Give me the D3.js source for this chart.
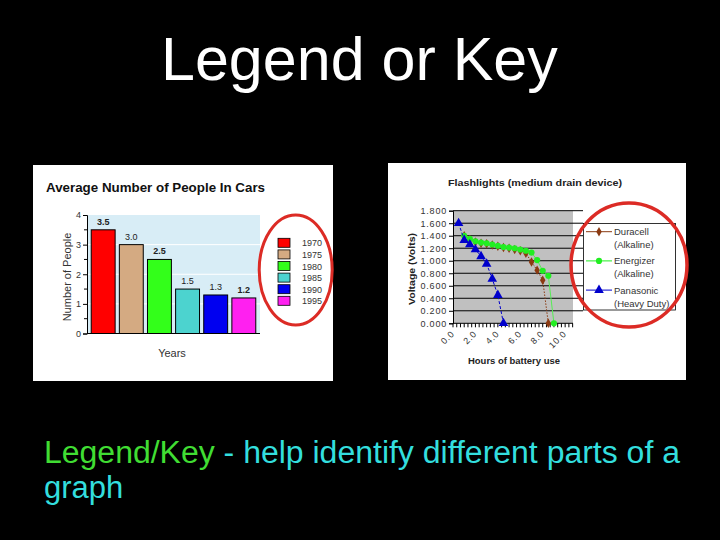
<!DOCTYPE html>
<html>
<head>
<meta charset="utf-8">
<script src="https://cdn.jsdelivr.net/npm/d3@7"></script>
<style>
body { margin: 0; background: #000; }
svg { display: block; }
text { font-family: "Liberation Sans", Arial, sans-serif; }
</style>
</head>
<body>
<svg width="720" height="540"></svg>
<script>
// --- left chart: average number of people in cars
var years = ["1970", "1975", "1980", "1985", "1990", "1995"];
var people = [3.5, 3.0, 2.5, 1.5, 1.3, 1.2];
var peopleLabels = ["3.5", "3.0", "2.5", "1.5", "1.3", "1.2"];
var peopleTicks = [0, 1, 2, 3, 4];

// --- right chart: flashlight battery voltage vs hours
var duracellHours = [1.0, 1.5, 2.0, 2.5, 3.0, 3.5, 4.0, 4.5, 5.0, 5.5, 6.0, 6.5, 7.0, 7.5, 8.0, 8.5];
var duracellVolts = [1.40, 1.34, 1.30, 1.28, 1.27, 1.25, 1.23, 1.21, 1.20, 1.18, 1.16, 1.12, 0.98, 0.85, 0.69, 0.00];
var energizerHours = [1.0, 1.5, 2.0, 2.5, 3.0, 3.5, 4.0, 4.5, 5.0, 5.5, 6.0, 6.5, 7.0, 7.5, 8.0, 8.5, 9.0];
var energizerVolts = [1.40, 1.35, 1.31, 1.29, 1.28, 1.26, 1.24, 1.22, 1.21, 1.20, 1.18, 1.16, 1.13, 1.01, 0.84, 0.76, 0.00];
var panasonicHours = [0.5, 1.0, 1.5, 2.0, 2.5, 3.0, 3.5, 4.0, 4.5];
var panasonicVolts = [1.60, 1.33, 1.26, 1.18, 1.07, 0.95, 0.71, 0.45, 0.00];
var seriesNames = [["Duracell", "(Alkaline)"], ["Energizer", "(Alkaline)"], ["Panasonic", "(Heavy Duty)"]];
var voltTicks = [0, 0.2, 0.4, 0.6, 0.8, 1.0, 1.2, 1.4, 1.6, 1.8];
var hourTicks = [0, 2, 4, 6, 8, 10];

var svg = d3.select("svg");

svg.append("rect").attr("width", 720).attr("height", 540).attr("fill", "#000");

// slide title
svg.append("text")
   .attr("x", 161).attr("y", 80)
   .attr("font-size", 61)
   .attr("fill", "#fff")
   .text("Legend or Key");

// ===================== left chart =====================
var colorsL = ["#ff0000", "#d4aa82", "#33ff1a", "#4cd3cf", "#0000f0", "#ff20f0"];

svg.append("rect")
   .attr("x", 33).attr("y", 165).attr("width", 300).attr("height", 216)
   .attr("fill", "#fff");

svg.append("text")
   .attr("x", 46).attr("y", 192)
   .attr("font-family", "'Liberation Sans Narrow', 'Arial Narrow', sans-serif")
   .attr("font-weight", "bold")
   .attr("font-size", 13)
   .attr("textLength", 219)
   .attr("lengthAdjust", "spacingAndGlyphs")
   .attr("fill", "#111")
   .text("Average Number of People In Cars");

var xL = d3.scaleBand()
           .domain(years)
           .range([87, 260])
           .paddingInner(0.15)
           .paddingOuter(0.15);

var yL = d3.scaleLinear()
           .domain([0, 4])
           .range([333.5, 215]);

svg.append("rect")
   .attr("x", 87).attr("y", yL(4))
   .attr("width", 173).attr("height", yL(0) - yL(4))
   .attr("fill", "#d8edf6");

svg.append("g")
   .selectAll("line")
   .data([1, 2, 3])
   .enter().append("line")
   .attr("x1", 87).attr("x2", 260)
   .attr("y1", function(d) { return yL(d); })
   .attr("y2", function(d) { return yL(d); })
   .attr("stroke", "#fff")
   .attr("stroke-width", 1);

svg.append("g")
   .selectAll("rect")
   .data(people)
   .enter().append("rect")
   .attr("x", function(d, i) { return xL(years[i]); })
   .attr("y", function(d) { return yL(d); })
   .attr("width", xL.bandwidth())
   .attr("height", function(d) { return yL(0) - yL(d); })
   .attr("fill", function(d, i) { return colorsL[i]; })
   .attr("stroke", "#000")
   .attr("stroke-width", 1);

svg.append("g")
   .selectAll("text")
   .data(people)
   .enter().append("text")
   .attr("x", function(d, i) { return xL(years[i]) + xL.bandwidth() / 2; })
   .attr("y", function(d) { return yL(d) - 5; })
   .attr("text-anchor", "middle")
   .attr("font-size", 9)
   .attr("font-weight", function(d, i) { return (i == 0 || i == 2 || i == 5) ? "bold" : "normal"; })
   .attr("fill", "#222")
   .text(function(d, i) { return peopleLabels[i]; });

// minor ticks on the value axis
svg.append("g")
   .selectAll("line")
   .data([0.5, 1.5, 2.5, 3.5])
   .enter().append("line")
   .attr("x1", 84).attr("x2", 87)
   .attr("y1", function(d) { return yL(d); })
   .attr("y2", function(d) { return yL(d); })
   .attr("stroke", "#000");

var axL = svg.append("g")
   .attr("transform", "translate(87,0)")
   .call(d3.axisLeft(yL).tickValues(peopleTicks).tickSize(4).tickPadding(2).tickFormat(d3.format("d")));
axL.selectAll("text").attr("font-size", 9).attr("fill", "#333")
   .attr("font-family", "'Liberation Sans', Arial, sans-serif");
axL.select(".domain").attr("stroke", "#000");

svg.append("line")
   .attr("x1", 87).attr("x2", 260)
   .attr("y1", yL(0)).attr("y2", yL(0))
   .attr("stroke", "#000");

svg.append("text")
   .attr("transform", "translate(71,277) rotate(-90)")
   .attr("text-anchor", "middle")
   .attr("font-size", 11)
   .attr("fill", "#333")
   .text("Number of People");

svg.append("text")
   .attr("x", 172).attr("y", 357)
   .attr("text-anchor", "middle")
   .attr("font-size", 11)
   .attr("fill", "#333")
   .text("Years");

var legL = svg.append("g")
   .selectAll("g")
   .data(years)
   .enter().append("g")
   .attr("transform", function(d, i) { return "translate(278," + (238.3 + i * 11.6) + ")"; });
legL.append("rect")
   .attr("width", 12).attr("height", 9)
   .attr("fill", function(d, i) { return colorsL[i]; })
   .attr("stroke", "#000")
   .attr("stroke-width", 0.8);
legL.append("text")
   .attr("x", 24).attr("y", 8)
   .attr("font-size", 9)
   .attr("fill", "#333")
   .text(function(d) { return d; });

// ===================== right chart =====================
var colorsR = ["#8b3a12", "#22ee22", "#0000cc"];

svg.append("rect")
   .attr("x", 388).attr("y", 163).attr("width", 298).attr("height", 217)
   .attr("fill", "#fff");

var xR = d3.scaleLinear()
           .domain([0, 10.7])
           .range([453, 573]);

var yR = d3.scaleLinear()
           .domain([0, 1.8])
           .range([323.3, 210.7]);

svg.append("rect")
   .attr("x", 453).attr("y", yR(1.8))
   .attr("width", 120).attr("height", yR(0) - yR(1.8))
   .attr("fill", "#c0c0c0");

svg.append("g")
   .selectAll("line")
   .data(voltTicks.slice(1))
   .enter().append("line")
   .attr("x1", 453).attr("x2", 583)
   .attr("y1", function(d) { return yR(d); })
   .attr("y2", function(d) { return yR(d); })
   .attr("stroke", "#000")
   .attr("stroke-width", 1);

var axY = svg.append("g")
   .attr("transform", "translate(453,0)")
   .call(d3.axisLeft(yR).tickValues(voltTicks).tickSize(4).tickPadding(2).tickFormat(d3.format(".3f")));
axY.selectAll("text").attr("font-size", 9).attr("fill", "#333").attr("letter-spacing", 0.8)
   .attr("font-family", "'Liberation Sans', Arial, sans-serif");

// bottom axis with fine ticks
svg.append("g")
   .selectAll("line")
   .data(d3.range(0, 10.75, 1 / 3))
   .enter().append("line")
   .attr("x1", function(d) { return xR(d); })
   .attr("x2", function(d) { return xR(d); })
   .attr("y1", yR(0)).attr("y2", yR(0) + 4)
   .attr("stroke", "#000");
svg.append("line")
   .attr("x1", 453).attr("x2", 573)
   .attr("y1", yR(0)).attr("y2", yR(0))
   .attr("stroke", "#000");

svg.append("g")
   .selectAll("text")
   .data(hourTicks)
   .enter().append("text")
   .attr("transform", function(d) { return "translate(" + (xR(d) + 2) + "," + (yR(0) + 11) + ") rotate(-45)"; })
   .attr("text-anchor", "end")
   .attr("font-size", 9)
   .attr("letter-spacing", 0.8)
   .attr("fill", "#333")
   .text(function(d) { return d3.format(".1f")(d); });

var line = d3.line()
             .x(function(d) { return xR(d[0]); })
             .y(function(d) { return yR(d[1]); });

var duracell = d3.zip(duracellHours, duracellVolts);
var energizer = d3.zip(energizerHours, energizerVolts);
var panasonic = d3.zip(panasonicHours, panasonicVolts);
var series = [duracell, energizer, panasonic];
var dashes = ["1.5,1.5", null, "3,2"];
var symbols = [d3.symbolDiamond, d3.symbolCircle, d3.symbolTriangle];
var symSize = [26, 30, 40];

series.forEach(function(s, i) {
    svg.append("path")
       .datum(s)
       .attr("fill", "none")
       .attr("stroke", i == 1 ? "#55ee55" : colorsR[i])
       .attr("stroke-width", 1)
       .attr("stroke-dasharray", dashes[i])
       .attr("d", line);
    svg.append("g")
       .selectAll("path")
       .data(s)
       .enter().append("path")
       .attr("transform", function(d) { return "translate(" + xR(d[0]) + "," + yR(d[1]) + ")"; })
       .attr("d", d3.symbol().type(symbols[i]).size(symSize[i]))
       .attr("fill", colorsR[i]);
});

svg.append("text")
   .attr("x", 535).attr("y", 186)
   .attr("text-anchor", "middle")
   .attr("font-size", 9.5)
   .attr("font-weight", "bold")
   .attr("textLength", 174)
   .attr("lengthAdjust", "spacingAndGlyphs")
   .attr("fill", "#222")
   .text("Flashlights (medium drain device)");

svg.append("text")
   .attr("transform", "translate(415,269) rotate(-90)")
   .attr("text-anchor", "middle")
   .attr("font-size", 9.5)
   .attr("font-weight", "bold")
   .attr("textLength", 72)
   .attr("lengthAdjust", "spacingAndGlyphs")
   .attr("fill", "#222")
   .text("Voltage (Volts)");

svg.append("text")
   .attr("x", 514).attr("y", 364)
   .attr("text-anchor", "middle")
   .attr("font-size", 9.5)
   .attr("font-weight", "bold")
   .attr("textLength", 92)
   .attr("lengthAdjust", "spacingAndGlyphs")
   .attr("fill", "#222")
   .text("Hours of battery use");

// legend box
svg.append("rect")
   .attr("x", 583.5).attr("y", 223.5).attr("width", 92).attr("height", 86.5)
   .attr("fill", "#fff")
   .attr("stroke", "#000")
   .attr("stroke-width", 0.8);

var legR = svg.append("g")
   .selectAll("g")
   .data(seriesNames)
   .enter().append("g")
   .attr("transform", function(d, i) { return "translate(0," + (231.7 + i * 29.2) + ")"; });
legR.append("line")
   .attr("x1", 586).attr("x2", 612)
   .attr("stroke", function(d, i) { return colorsR[i]; })
   .attr("stroke-width", 1);
legR.append("path")
   .attr("transform", "translate(599,0)")
   .attr("d", function(d, i) { return d3.symbol().type(symbols[i]).size(symSize[i])(); })
   .attr("fill", function(d, i) { return colorsR[i]; });
legR.append("text")
   .attr("x", 614).attr("y", 3.5)
   .attr("font-size", 9.5)
   .attr("fill", "#333")
   .text(function(d) { return d[0]; });
legR.append("text")
   .attr("x", 614).attr("y", 16.5)
   .attr("font-size", 9.5)
   .attr("fill", "#333")
   .text(function(d) { return d[1]; });

// red ellipses round the legends
svg.append("ellipse")
   .attr("cx", 295.7).attr("cy", 270).attr("rx", 36.5).attr("ry", 55)
   .attr("fill", "none").attr("stroke", "#dc2b25").attr("stroke-width", 3);
svg.append("ellipse")
   .attr("cx", 629).attr("cy", 265).attr("rx", 58).attr("ry", 62)
   .attr("fill", "none").attr("stroke", "#dc2b25").attr("stroke-width", 3.5);

// caption
var cap = svg.append("text")
   .attr("x", 44).attr("y", 463)
   .attr("font-size", 31)
   .attr("textLength", 636)
   .attr("lengthAdjust", "spacingAndGlyphs");
cap.append("tspan").attr("fill", "#40dd33").text("Legend/Key");
cap.append("tspan").attr("fill", "#33dede").text(" - help identify different parts of a");

svg.append("text")
   .attr("x", 44).attr("y", 498)
   .attr("font-size", 31)
   .attr("fill", "#33dede")
   .text("graph");
</script>
</body>
</html>
